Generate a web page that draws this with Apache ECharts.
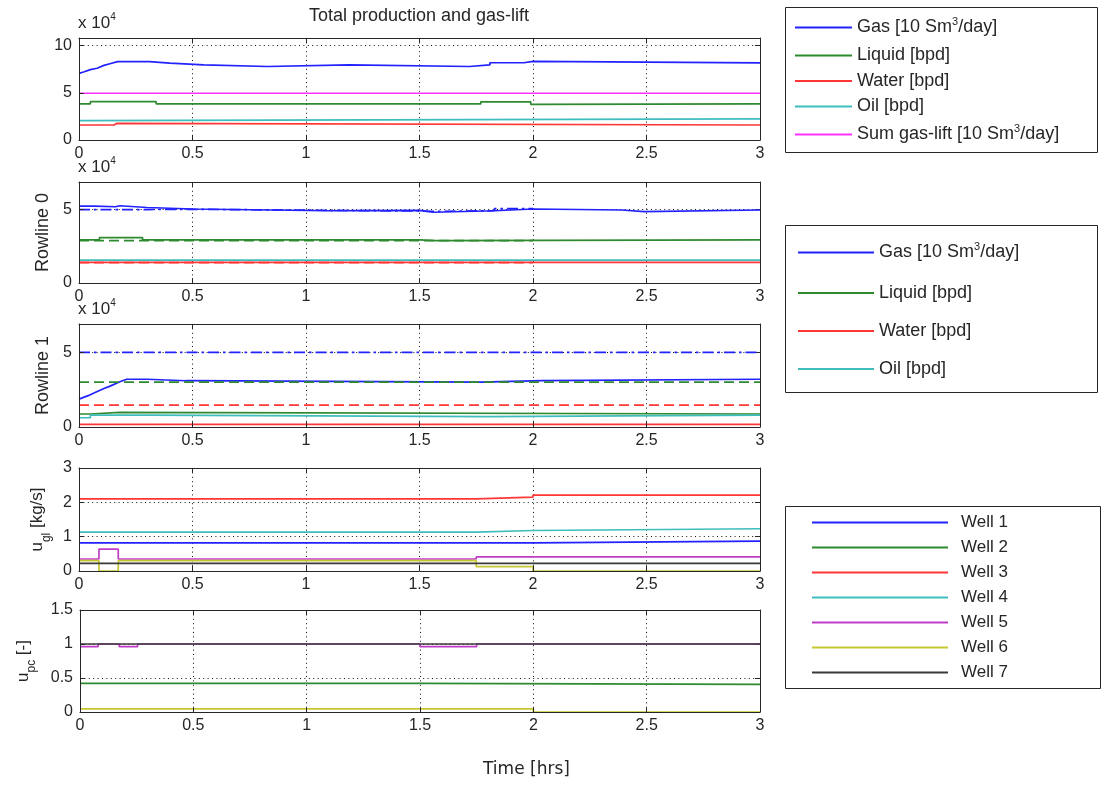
<!DOCTYPE html>
<html>
<head>
<meta charset="utf-8">
<script src="https://cdn.jsdelivr.net/npm/echarts@6/dist/echarts.min.js"></script>
<style>
  html, body { margin: 0; padding: 0; background: #fff; }
  #chart { width: 1105px; height: 785px; }
</style>
</head>
<body>
<div id="chart"></div>
<script>
// ---------- data (time in hours; production values in units of 1e4) ----------
// Total production and gas-lift
const totGas = [[0,7.05],[0.02,7.2],[0.05,7.45],[0.08,7.6],[0.11,7.9],[0.14,8.1],[0.17,8.3],[0.31,8.3],[0.31,8.13],[0.4,8.13],[0.4,7.95],[0.55,7.95],[0.55,7.78],[0.83,7.78],[0.83,7.95],[1.19,7.95],[1.19,7.78],[1.72,7.78],[1.72,7.95],[1.81,7.95],[1.81,8.18],[1.96,8.18],[1.96,8.32],[2.0,8.32],[2.0,8.16],[3,8.16]];
const totLiquid = [[0,3.82],[0.05,4.06],[0.34,3.82],[1.77,4.04],[1.99,3.78],[2.01,3.82],[3,3.82]];
const totWater = [[0,1.59],[0.155,1.76],[0.165,1.59],[3,1.59]];
const totOil = [[0,2.05],[0.01,2.23],[3,2.23]];
const sumGasLift = [[0,4.95],[3,4.95]];

// Rowline 0
const r0Gas = [[0,5.22],[0.07,5.17],[0.16,5.24],[0.18,5.12],[0.3,5.02],[0.5,4.9],[1.1,4.92],[1.5,4.8],[1.56,4.9],[1.83,5.02],[2.0,4.95],[2.39,4.84],[2.49,4.95],[3,4.95]];
const r0Liquid = [[0,2.92],[0.09,3.08],[0.28,2.92],[1.5,2.88],[1.57,2.92],[3,2.92]];
const r0Water = [[0,1.4],[3,1.4]];
const r0Oil = [[0,1.55],[3,1.55]];
const r0GasLimit = [[0,4.98],[0.3,5.0],[0.5,4.88],[1.5,4.86],[1.56,4.9],[1.83,5.04],[2.0,5.04]];
const r0LiquidLimit = [[0,2.88],[2.0,2.88]];
const r0WaterLimit = [[0,1.38],[2.0,1.38]];

// Rowline 1
const r1Gas = [[0,1.87],[0.04,2.1],[0.078,2.36],[0.11,2.58],[0.137,2.74],[0.18,3.03],[0.21,3.2],[0.3,3.2],[0.3,3.1],[0.47,3.1],[0.47,3.01],[1.77,3.01],[1.77,3.1],[2.04,3.1],[2.04,3.2],[3,3.2]];
const r1Liquid = [[0,0.87],[0.05,0.98],[0.18,0.87],[3,0.87]];
const r1Water = [[0,0.18],[3,0.18]];
const r1Oil = [[0,0.62],[0.05,0.8],[0.3,0.69],[1.8,0.8],[3,0.8]];
const r1GasLimit = [[0,5.0],[3,5.0]];
const r1LiquidLimit = [[0,3.0],[3,3.0]];
const r1WaterLimit = [[0,1.47],[3,1.47]];

// Gas-lift rate per well [kg/s]
const gl1 = [[0,0.82],[2.0,0.87],[3,0.87]];
const gl3 = [[0,2.1],[1.75,2.15],[2.0,2.21],[3,2.21]];
const gl4 = [[0,1.13],[1.75,1.18],[2.0,1.23],[3,1.23]];
const gl5 = [[0,0.35],[0.088,0.64],[0.173,0.35],[1.75,0.41],[3,0.41]];
const gl6 = [[0,0.3],[0.088,0],[0.173,0.3],[1.75,0.125],[2.0,0],[3,0]];
const gl7 = [[0,0.22],[3,0.22]];

// Production choke opening per well [-]
const pc2 = [[0,0.42],[1.5,0.405],[3,0.405]];
const pc5 = [[0,0.96],[0.08,1.0],[0.173,0.96],[0.254,1.0],[1.5,0.96],[1.75,1.0],[3,1.0]];
const pc6 = [[0,0.045],[2.0,0],[3,0]];
const pc7 = [[0,1.0],[3,1.0]];

const prodNames = ['Gas', 'Liquid', 'Water', 'Oil', 'Sum gas-lift'];
const wellNames = ['Well 1', 'Well 2', 'Well 3', 'Well 4', 'Well 5', 'Well 6', 'Well 7'];
const yAxisNames = ['', 'Rowline 0', 'Rowline 1', '{u|u}{sub|gl}{u| [kg/s]}', '{u|u}{sub|pc}{u| [-]}'];

// ---------- styling ----------
const FONT = '"Liberation Sans", Arial, Helvetica, sans-serif';
const INK = '#262626';
const COL = {
  blue: '#2222ff', green: '#2f8a2f', red: '#ff3636', cyan: '#3fbdbd',
  magenta: '#ff33ff', purple: '#c03cc8', yellow: '#c6c632', black: '#3a3a3a'
};
const DASH = [10, 5];
const DASHDOT = [11, 4, 2.5, 4];

const panels = [
  { top: 38,  height: 102, ymax: 10.8, yint: 5,   hideMax: true,  nameGap: 0 },
  { top: 182, height: 101, ymax: 6.85, yint: 5,   hideMax: true,  nameGap: 26 },
  { top: 324, height: 103, ymax: 6.9,  yint: 5,   hideMax: true,  nameGap: 26 },
  { top: 468, height: 103, ymax: 3,    yint: 1,   hideMax: false, nameGap: 30 },
  { top: 610, height: 102, ymax: 1.5,  yint: 0.5, hideMax: false, nameGap: 47 }
];
const LEFT = 79, WIDTH = 681;

const grids = [], xAxes = [], yAxes = [];
panels.forEach((p, i) => {
  grids.push({ left: LEFT, width: WIDTH, top: p.top, height: p.height, containLabel: false, show: false });
  const axisLine = { show: true, onZero: false, lineStyle: { color: INK, width: 1 } };
  const tick = { show: true, inside: true, length: 5, lineStyle: { color: INK, width: 1 } };
  const dotted = { show: true, lineStyle: { color: '#111', width: 1, type: [1, 3.4] } };
  // bottom axis: labels, drawn above the curves
  xAxes.push({ type: 'value', gridIndex: i, position: 'bottom', min: 0, max: 3, interval: 0.5, z: 5,
    axisLine, axisTick: tick, splitLine: { show: false },
    axisLabel: { margin: 6, color: INK, fontSize: 16, fontFamily: FONT } });
  // top axis: mirrored ticks and dotted grid
  xAxes.push({ type: 'value', gridIndex: i, position: 'top', min: 0, max: 3, interval: 0.5, z: 0,
    axisLine, axisTick: tick, splitLine: dotted, axisLabel: { show: false } });
  yAxes.push({ type: 'value', gridIndex: i, position: 'left', min: 0, max: p.ymax, interval: p.yint, z: 5,
    axisLine, axisTick: tick, splitLine: { show: false },
    axisLabel: { margin: 7, color: INK, fontSize: 16, fontFamily: FONT, showMaxLabel: !p.hideMax },
    name: yAxisNames[i], nameLocation: 'middle', nameGap: p.nameGap, nameRotate: 90,
    nameTextStyle: { color: INK, fontSize: 18, fontFamily: FONT,
      rich: {
        u: { fontSize: 17, fontFamily: FONT, color: INK, lineHeight: 20 },
        sub: { fontSize: 12, fontFamily: FONT, color: INK, lineHeight: 13, padding: [18, 0, 0, 0] }
      } } });
  yAxes.push({ type: 'value', gridIndex: i, position: 'right', min: 0, max: p.ymax, interval: p.yint, z: 0,
    axisLine, axisTick: tick, splitLine: dotted, axisLabel: { show: false } });
});

function line(name, data, panel, color, opt) {
  opt = opt || {};
  return {
    type: 'line', name, data,
    xAxisIndex: panel * 2, yAxisIndex: panel * 2,
    step: opt.step ? 'end' : false,
    symbol: 'none', showSymbol: false, silent: true, animation: false,
    emphasis: { disabled: true },
    lineStyle: { color, width: 1.7, type: opt.dash || 'solid' },
    itemStyle: { color }
  };
}

const series = [
  // total production
  line('Gas', totGas, 0, COL.blue),
  line('Liquid', totLiquid, 0, COL.green, { step: true }),
  line('Water', totWater, 0, COL.red, { step: true }),
  line('Oil', totOil, 0, COL.cyan, { step: true }),
  line('Sum gas-lift', sumGasLift, 0, COL.magenta, { step: true }),
  // rowline 0
  line('Gas', r0Gas, 1, COL.blue, { step: true }),
  line('Liquid', r0Liquid, 1, COL.green, { step: true }),
  line('Water', r0Water, 1, COL.red, { step: true }),
  line('Oil', r0Oil, 1, COL.cyan, { step: true }),
  line('Gas limit', r0GasLimit, 1, COL.blue, { step: true, dash: DASHDOT }),
  line('Liquid limit', r0LiquidLimit, 1, COL.green, { step: true, dash: DASH }),
  line('Water limit', r0WaterLimit, 1, COL.red, { step: true, dash: DASH }),
  // rowline 1
  line('Gas', r1Gas, 2, COL.blue),
  line('Liquid', r1Liquid, 2, COL.green, { step: true }),
  line('Water', r1Water, 2, COL.red, { step: true }),
  line('Oil', r1Oil, 2, COL.cyan, { step: true }),
  line('Gas limit', r1GasLimit, 2, COL.blue, { step: true, dash: DASHDOT }),
  line('Liquid limit', r1LiquidLimit, 2, COL.green, { step: true, dash: DASH }),
  line('Water limit', r1WaterLimit, 2, COL.red, { step: true, dash: DASH }),
  // gas-lift rates
  line('Well 1', gl1, 3, COL.blue, { step: true }),
  line('Well 3', gl3, 3, COL.red, { step: true }),
  line('Well 4', gl4, 3, COL.cyan, { step: true }),
  line('Well 5', gl5, 3, COL.purple, { step: true }),
  line('Well 6', gl6, 3, COL.yellow, { step: true }),
  line('Well 7', gl7, 3, COL.black, { step: true }),
  // choke openings
  line('Well 2', pc2, 4, COL.green, { step: true }),
  line('Well 5', pc5, 4, COL.purple, { step: true }),
  line('Well 6', pc6, 4, COL.yellow, { step: true }),
  line('Well 7', pc7, 4, COL.black, { step: true })
];

const legendLabel = {
  'Gas': '{t|Gas [10 Sm}{s|3}{t|/day]}',
  'Liquid': '{t|Liquid [bpd]}',
  'Water': '{t|Water [bpd]}',
  'Oil': '{t|Oil [bpd]}',
  'Sum gas-lift': '{t|Sum gas-lift [10 Sm}{s|3}{t|/day]}'
};
const prodRich = {
  t: { fontSize: 18, fontFamily: FONT, color: INK, lineHeight: 24 },
  s: { fontSize: 11, fontFamily: FONT, color: INK, lineHeight: 12, padding: [0, 0, 12, 0] }
};
function legend(names, left, top, itemWidth, itemGap, formatter, rich, size) {
  return {
    data: names, orient: 'vertical', left, top, padding: 0,
    itemWidth, itemHeight: 2, itemGap, icon: 'rect', selectedMode: false,
    itemStyle: { borderWidth: 0 },
    textStyle: { fontSize: size, fontFamily: FONT, color: INK, rich },
    formatter
  };
}

const multRich = {
  a: { fontSize: 17, fontFamily: FONT, fill: INK, lineHeight: 20 },
  b: { fontSize: 10, fontFamily: FONT, fill: INK, lineHeight: 10, padding: [0, 0, 12, 0] }
};
function multiplier(y) {
  return { type: 'text', left: 78, top: y, z: 10,
    style: { text: '{a|x 10}{b|4}', rich: multRich, fill: INK, font: '17px ' + FONT } };
}
function box(x, y, w, h) {
  return { type: 'rect', z: 1, shape: { x, y, width: w, height: h },
    style: { fill: 'transparent', stroke: INK, lineWidth: 1 } };
}

const option = {
  animation: false,
  backgroundColor: '#ffffff',
  title: {
    text: 'Total production and gas-lift', left: 419, top: 7, padding: 0, textAlign: 'center',
    textStyle: { fontFamily: FONT, fontSize: 18, fontWeight: 'normal', color: INK }
  },
  grid: grids,
  xAxis: xAxes,
  yAxis: yAxes,
  series,
  legend: [
    legend(prodNames, 795, 16, 57, 7.5, n => legendLabel[n], prodRich, 18),
    legend(prodNames.slice(0, 4), 798, 241, 76, 20, n => legendLabel[n], prodRich, 18),
    legend(wellNames, 812, 514, 136, 8, n => '{w|' + n + '}',
      { w: { fontSize: 17, fontFamily: FONT, color: INK, lineHeight: 20, padding: [0, 0, 0, 8] } }, 17)
  ],
  graphic: [
    box(785.5, 7.5, 312, 145),
    box(785.5, 225.5, 312, 167),
    box(785.5, 506.5, 315, 182),
    multiplier(12),
    multiplier(156),
    multiplier(298),
    { type: 'text', left: 483, top: 761, z: 10,
      style: { text: 'Time [hrs]', fill: INK, font: '17px "DejaVu Sans", sans-serif' } }
  ]
};

const chart = echarts.init(document.getElementById('chart'), null, { renderer: 'canvas' });
chart.setOption(option);
</script>
</body>
</html>
